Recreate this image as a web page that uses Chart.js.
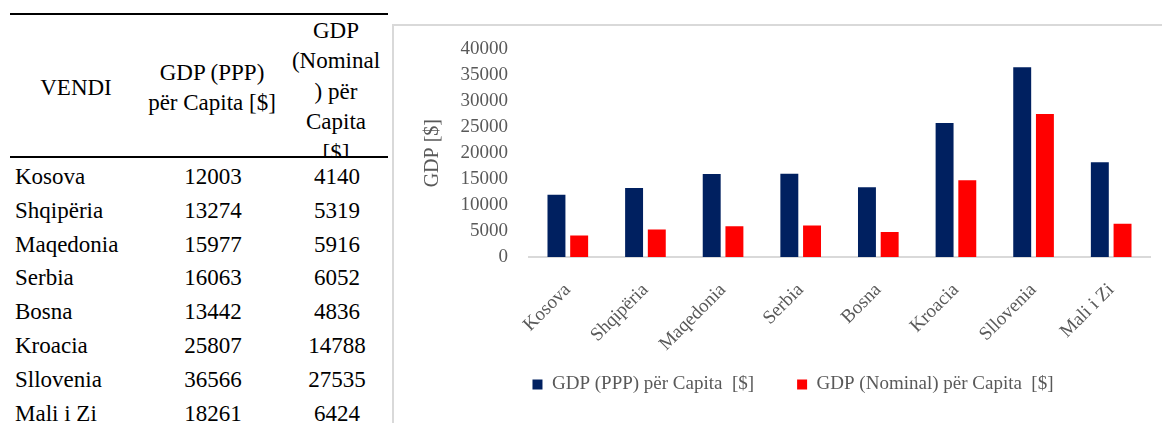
<!DOCTYPE html>
<html><head><meta charset="utf-8">
<script src="https://cdn.jsdelivr.net/npm/chart.js@4/dist/chart.umd.min.js"></script>
<style>
html,body{margin:0;padding:0;background:#fff;}
body{width:1162px;height:423px;overflow:hidden;position:relative;}
.t{position:absolute;font-family:'Liberation Serif','Times New Roman',serif;font-size:23px;line-height:30px;height:30px;white-space:pre;color:#000;}
.c{transform:translateX(-50%);}
.rule{position:absolute;background:#000;}
#hdr{position:absolute;left:0;top:0;width:392px;height:156px;overflow:hidden;}
#box{position:absolute;left:392px;top:24px;width:900px;height:520px;border-left:2px solid #d9d9d9;border-top:2px solid #d9d9d9;}
#cv{position:absolute;left:0;top:-9px;}
</style></head><body>
<div id="hdr"></div>
<div id="rows"></div>
<div class="rule" style="left:10px;top:13px;width:378px;height:2px"></div>
<div class="rule" style="left:10px;top:156px;width:378px;height:2px"></div>
<div id="box"><canvas id="cv" width="800" height="460"></canvas></div>
<script>
const categories = ['Kosova','Shqipëria','Maqedonia','Serbia','Bosna','Kroacia','Sllovenia','Mali i Zi'];
const gdpPPP = [12003,13274,15977,16063,13442,25807,36566,18261];
const gdpNominal = [4140,5319,5916,6052,4836,14788,27535,6424];
const seriesNames = ['GDP (PPP) për Capita  [$]','GDP (Nominal) për Capita  [$]'];
const headerCountry = ['VENDI'];
const headerPPP = ['GDP (PPP)','për Capita [$]'];
const headerNominal = ['GDP','(Nominal',') për','Capita','[$]'];
const yAxisTitle = 'GDP [$]';
const yMin = 0, yMax = 40000, yStep = 5000;

function addText(parent, text, x, yc, centered){
  const d = document.createElement('div');
  d.className = 't' + (centered ? ' c' : '');
  d.textContent = text;
  d.style.left = x + 'px';
  d.style.top = (yc - 15) + 'px';
  parent.appendChild(d);
}
const hdr = document.getElementById('hdr');
const rows = document.getElementById('rows');
addText(hdr, headerCountry[0], 76, 88, true);
headerPPP.forEach((s,i)=>addText(hdr, s, 212, 73 + i*29.5, true));
headerNominal.forEach((s,i)=>addText(hdr, s, 336, 31 + i*30.4, true));
categories.forEach((c,i)=>{
  const y = 176.7 + i*33.9;
  addText(rows, c, 15, y, false);
  addText(rows, String(gdpPPP[i]), 213, y, true);
  addText(rows, String(gdpNominal[i]), 337, y, true);
});

const grey = '#595959';
const fontFam = "'Liberation Serif','Times New Roman',serif";
const legendShift = {
  id: 'legendShift',
  afterLayout(chart) {
    const lg = chart.legend;
    if (lg) { lg.top -= 25; lg.bottom -= 25; }
  }
};
new Chart(document.getElementById('cv'), {
  type: 'bar',
  data: {
    labels: categories,
    datasets: [
      {label: seriesNames[0], data: gdpPPP, backgroundColor: '#002060', categoryPercentage: 0.585, barPercentage: 0.79},
      {label: seriesNames[1], data: gdpNominal, backgroundColor: '#ff0000', categoryPercentage: 0.585, barPercentage: 0.79}
    ]
  },
  plugins: [legendShift],
  options: {
    responsive: false,
    animation: false,
    devicePixelRatio: 1,
    layout: {padding: {left: 42, top: 10, right: 44, bottom: 48}},
    plugins: {
      tooltip: {enabled: false},
      legend: {
        position: 'bottom',
        labels: {boxWidth: 10, boxHeight: 10, padding: 43, color: grey, font: {family: fontFam, size: 19}}
      }
    },
    scales: {
      x: {
        grid: {display: false, drawTicks: false},
        border: {display: true, color: '#d9d9d9', width: 2},
        ticks: {color: grey, font: {family: fontFam, size: 19}, minRotation: 45, maxRotation: 45, padding: 22, autoSkip: false},
        afterFit: s => { s.height = 100; }
      },
      y: {
        min: yMin, max: yMax,
        grid: {display: false, drawTicks: false},
        border: {display: false},
        ticks: {stepSize: yStep, color: grey, font: {family: fontFam, size: 19}, padding: 21, callback: v => String(v)},
        title: {display: true, text: yAxisTitle, color: grey, font: {family: fontFam, size: 20}, padding: {top: -15, bottom: 0}},
        afterFit: s => { s.width = 93; }
      }
    }
  }
});
</script>
</body></html>
